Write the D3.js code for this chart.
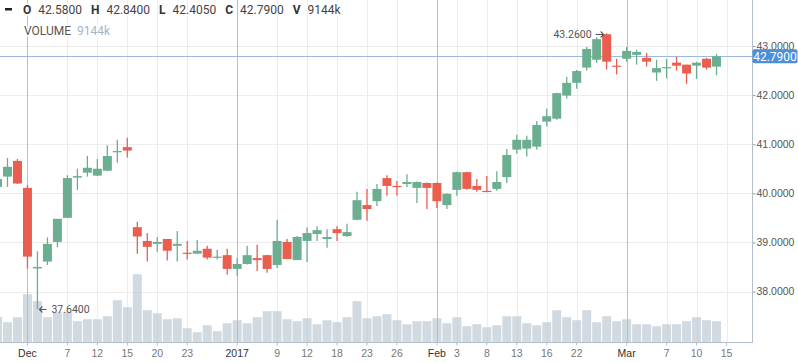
<!DOCTYPE html>
<html>
<head>
<meta charset="utf-8">
<script src="https://cdn.jsdelivr.net/npm/d3@7"></script>
<style>
  body { margin: 0; background: #fff; }
  svg { display: block; font-family: Roboto, "Liberation Sans", Arial, sans-serif; }
</style>
</head>
<body>
<script>
// trading days shown (last one, Mar 15, has no candle yet)
var days = ["2016-11-28","2016-11-29","2016-11-30","2016-12-01","2016-12-02","2016-12-05","2016-12-06","2016-12-07","2016-12-08","2016-12-09",
  "2016-12-12","2016-12-13","2016-12-14","2016-12-15","2016-12-16","2016-12-19","2016-12-20","2016-12-21","2016-12-22","2016-12-23",
  "2016-12-27","2016-12-28","2016-12-29","2016-12-30","2017-01-03","2017-01-04","2017-01-05","2017-01-06","2017-01-09","2017-01-10",
  "2017-01-11","2017-01-12","2017-01-13","2017-01-17","2017-01-18","2017-01-19","2017-01-20","2017-01-23","2017-01-24","2017-01-25",
  "2017-01-26","2017-01-27","2017-01-30","2017-01-31","2017-02-01","2017-02-02","2017-02-03","2017-02-06","2017-02-07","2017-02-08",
  "2017-02-09","2017-02-10","2017-02-13","2017-02-14","2017-02-15","2017-02-16","2017-02-17","2017-02-21","2017-02-22","2017-02-23",
  "2017-02-24","2017-02-27","2017-02-28","2017-03-01","2017-03-02","2017-03-03","2017-03-06","2017-03-07","2017-03-08","2017-03-09",
  "2017-03-10","2017-03-13","2017-03-14","2017-03-15"];

var open  = [40.13,40.34,40.66,40.11,38.47,38.61,39.01,39.50,40.32,40.42,40.36,40.46,40.84,40.94,39.31,39.03,38.97,39.07,38.93,38.79,
  38.77,38.87,38.69,38.74,38.46,38.56,38.68,38.74,38.54,39.01,38.64,39.03,39.17,39.07,39.27,39.13,39.46,39.76,39.84,40.31,
  40.15,40.19,40.11,40.21,40.21,39.76,40.07,40.43,40.15,40.05,40.09,40.33,40.89,40.91,40.95,41.46,41.52,41.99,42.25,42.56,
  42.72,43.24,42.60,42.74,42.82,42.76,42.46,42.55,42.66,42.62,42.60,42.74,42.58];
var high  = [40.35,40.72,40.70,40.17,38.82,39.10,39.48,40.37,40.50,40.76,40.70,40.98,41.09,41.13,39.42,39.19,39.11,39.07,39.23,39.03,
  39.05,38.93,38.85,38.87,38.68,38.93,38.95,38.75,39.46,39.07,39.13,39.31,39.33,39.27,39.33,39.38,40.03,40.09,40.19,40.37,
  40.25,40.39,40.24,40.22,40.22,40.00,40.44,40.44,40.29,40.35,40.45,40.90,41.19,41.17,41.47,41.72,42.05,42.37,42.51,42.98,
  43.18,43.26,42.74,42.98,42.92,42.86,42.72,42.74,42.78,42.62,42.68,42.76,42.84];
var low   = [40.05,40.13,40.19,38.47,37.64,38.54,38.90,39.50,40.07,40.34,40.35,40.45,40.62,40.73,38.77,38.61,38.81,38.63,38.61,38.65,
  38.77,38.65,38.65,38.34,38.32,38.55,38.42,38.38,38.48,38.66,38.64,38.60,39.03,38.89,39.03,39.11,39.45,39.44,39.74,39.95,
  39.95,40.13,39.80,39.68,39.70,39.68,39.95,40.07,40.03,40.02,40.05,40.21,40.81,40.75,40.89,41.36,41.50,41.93,42.13,42.50,
  42.66,42.52,42.42,42.68,42.62,42.58,42.29,42.34,42.50,42.23,42.33,42.52,42.405];
var close = [40.29,40.54,40.20,38.71,38.50,38.97,39.48,40.31,40.35,40.52,40.50,40.76,40.86,40.87,39.12,38.91,39.01,38.83,38.97,38.77,
  38.83,38.69,38.71,38.46,38.56,38.74,38.64,38.46,39.03,38.66,39.11,39.19,39.25,39.11,39.19,39.21,39.86,39.68,40.09,40.15,
  40.13,40.23,40.23,40.11,39.84,39.99,40.43,40.09,40.07,40.03,40.23,40.78,41.09,41.09,41.39,41.57,42.04,42.25,42.49,42.94,
  43.14,42.68,42.58,42.90,42.88,42.68,42.55,42.57,42.60,42.44,42.66,42.56,42.79];
// volume in thousands
var volume = [10980,8710,10850,20720,17720,10850,13000,13000,9140,10000,10000,11280,18150,15140,29300,13860,12570,10000,10420,6130,
  4420,7420,4850,8280,9570,8280,10850,13430,13430,10000,9140,10420,7850,9570,8710,10850,17720,10420,11280,12140,
  9570,7850,9140,9140,10420,8280,10850,6990,7850,6560,7420,11280,11280,8280,7420,8710,13860,10850,9570,13860,
  8710,11280,9140,10000,7850,7850,6990,7850,7850,9140,10850,9570,9144];

var tickDays = ["2016-12-01","2016-12-07","2016-12-12","2016-12-15","2016-12-20","2016-12-23","2017-01-03","2017-01-09","2017-01-12",
  "2017-01-18","2017-01-23","2017-01-26","2017-02-01","2017-02-03","2017-02-08","2017-02-13","2017-02-16","2017-02-22",
  "2017-03-01","2017-03-07","2017-03-10","2017-03-15"];
var tickLabels = ["Dec","7","12","15","20","23","2017","9","12","18","23","26","Feb","3","8","13","16","22","Mar","7","10","15"];
var majorTicks = ["Dec","2017","Feb","Mar"];
var priceTicks = [38, 39, 40, 41, 42, 43];

var W = 798, H = 363, plotR = 752, plotB = 342.5;
var up = "#6bae90", down = "#ea5e50";

var svg = d3.select("body").append("svg").attr("width", W).attr("height", H);
svg.append("defs").append("clipPath").attr("id", "plot")
  .append("rect").attr("x", 0).attr("y", 0).attr("width", plotR).attr("height", plotB);

var x = d3.scaleBand().domain(days).range([-8, -8 + days.length * 10]).padding(0.1);
var xc = function(d) { return x(d) + x.bandwidth() / 2; };
var y = d3.scaleLinear().domain([38, 43]).range([291.5, 46]);
var yv = d3.scaleLinear().domain([0, 30000]).range([plotB, plotB - 30000 / 429]);

var candles = days.slice(0, open.length).map(function(d, i) {
  return { day: d, o: open[i], h: high[i], l: low[i], c: close[i], v: volume[i] };
});

var plot = svg.append("g").attr("clip-path", "url(#plot)");

// light grid
plot.selectAll(".hg").data(priceTicks).enter().append("line")
  .attr("x1", 0).attr("x2", plotR).attr("y1", function(d) { return Math.round(y(d)) + 0.5; })
  .attr("y2", function(d) { return Math.round(y(d)) + 0.5; })
  .attr("stroke", "#ececec");
plot.selectAll(".vg").data(tickDays.filter(function(d, i) { return majorTicks.indexOf(tickLabels[i]) < 0; }))
  .enter().append("line")
  .attr("x1", function(d) { return Math.round(xc(d)) + 0.5; }).attr("x2", function(d) { return Math.round(xc(d)) + 0.5; })
  .attr("y1", 0).attr("y2", plotB).attr("stroke", "#ececec");

// volume
plot.selectAll(".vol").data(candles).enter().append("rect")
  .attr("x", function(d) { return x(d.day); }).attr("width", x.bandwidth())
  .attr("y", function(d) { return yv(d.v); }).attr("height", function(d) { return plotB - yv(d.v); })
  .attr("fill", "#b9c5d1").attr("fill-opacity", 0.65);

// month lines
plot.selectAll(".mg").data(tickDays.filter(function(d, i) { return majorTicks.indexOf(tickLabels[i]) >= 0; }))
  .enter().append("line")
  .attr("x1", function(d) { return Math.round(xc(d)) + 0.5; }).attr("x2", function(d) { return Math.round(xc(d)) + 0.5; })
  .attr("y1", 0).attr("y2", plotB).attr("stroke", "#bdbdbd");

// last close line
var last = candles[candles.length - 1];
plot.append("line").attr("x1", 0).attr("x2", plotR)
  .attr("y1", Math.round(y(last.c)) + 0.5).attr("y2", Math.round(y(last.c)) + 0.5)
  .attr("stroke", "#9db9e0");

// candles
var cg = plot.selectAll(".candle").data(candles).enter().append("g");
cg.append("line")
  .attr("x1", function(d) { return xc(d.day); }).attr("x2", function(d) { return xc(d.day); })
  .attr("y1", function(d) { return y(d.h); }).attr("y2", function(d) { return y(d.l); })
  .attr("stroke", function(d) { return d.c >= d.o ? up : down; }).attr("stroke-width", 1.3);
cg.append("rect")
  .attr("x", function(d) { return x(d.day); }).attr("width", x.bandwidth())
  .attr("y", function(d) { return y(Math.max(d.o, d.c)); })
  .attr("height", function(d) { return Math.max(1.2, Math.abs(y(d.o) - y(d.c))); })
  .attr("fill", function(d) { return d.c >= d.o ? up : down; });

// high / low markers (arrow + value)
var lowest = candles.reduce(function(a, b) { return b.l < a.l ? b : a; });
var highest = candles.reduce(function(a, b) { return b.h > a.h ? b : a; });
var ann = svg.append("g").attr("font-size", 10.5).attr("fill", "#555");
var lx = xc(lowest.day), ly = Math.round(y(lowest.l)) + 0.5;
ann.append("path").attr("d", "M" + (lx + 9) + "," + ly + "H" + (lx + 2) + "M" + (lx + 5) + "," + (ly - 3) + "L" + (lx + 2) + "," + ly + "L" + (lx + 5) + "," + (ly + 3))
  .attr("fill", "none").attr("stroke", "#555").attr("stroke-width", 1.1);
ann.append("text").attr("x", lx + 14).attr("y", ly).attr("dy", "0.35em").text(lowest.l.toFixed(4));
var hx = xc(highest.day), hy = Math.round(y(highest.h)) + 1.5;
ann.append("path").attr("d", "M" + (hx - 11) + "," + hy + "H" + (hx - 3) + "M" + (hx - 6) + "," + (hy - 3) + "L" + (hx - 3) + "," + hy + "L" + (hx - 6) + "," + (hy + 3))
  .attr("fill", "none").attr("stroke", "#555").attr("stroke-width", 1.1);
ann.append("text").attr("x", hx - 15).attr("y", hy).attr("dy", "0.35em")
  .attr("text-anchor", "end").text(highest.h.toFixed(4));

// right axis
var axisColor = "#b3bfcc";
var ra = svg.append("g").attr("transform", "translate(" + (plotR + 0.5) + ",0)")
  .call(d3.axisRight(y).tickValues(priceTicks).tickSize(3).tickPadding(1).tickFormat(d3.format(".4f")));
ra.select(".domain").remove();
ra.selectAll("line").attr("stroke", "#999");
ra.selectAll("text").attr("fill", "#555").attr("font-size", 10.5).attr("font-family", null);
svg.append("line").attr("x1", plotR + 0.5).attr("x2", plotR + 0.5).attr("y1", 0).attr("y2", plotB)
  .attr("stroke", axisColor);

// last price tag
var ty = y(last.c);
svg.append("rect").attr("x", plotR + 0.5).attr("y", ty - 7).attr("width", 45).attr("height", 14).attr("rx", 2)
  .attr("fill", "#4a8fd8");
svg.append("text").attr("x", plotR + 23).attr("y", ty).attr("dy", "0.35em").attr("text-anchor", "middle")
  .attr("fill", "#fff").attr("font-size", 12).text(last.c.toFixed(4));

// bottom axis
var ba = svg.append("g").attr("transform", "translate(0," + plotB + ")")
  .call(d3.axisBottom(x).tickValues(tickDays).tickSize(3).tickPadding(4)
    .tickFormat(function(d, i) { return tickLabels[i]; }));
ba.select(".domain").remove();
ba.selectAll("line").attr("stroke", axisColor);
ba.selectAll("text").attr("font-size", 10.5).attr("font-family", null)
  .attr("fill", function(d, i) { return majorTicks.indexOf(tickLabels[i]) >= 0 ? "#333" : "#777"; });
svg.append("line").attr("x1", 0).attr("x2", plotR + 0.5).attr("y1", plotB).attr("y2", plotB).attr("stroke", axisColor);

// header legend
var hdr = svg.append("g").attr("font-size", 12).attr("fill", "#333")
  .attr("stroke", "#fff").attr("stroke-width", 3).attr("paint-order", "stroke");
hdr.append("rect").attr("x", 5).attr("y", 8).attr("width", 7).attr("height", 2.5).attr("fill", "#222").attr("stroke", "none");
var items = [["O", last.o.toFixed(4)], ["H", last.h.toFixed(4)], ["L", last.l.toFixed(4)], ["C", last.c.toFixed(4)],
  ["V", last.v + "k"]];
var cx = 23;
items.forEach(function(it) {
  var t1 = hdr.append("text").attr("x", cx).attr("y", 13.5).attr("font-weight", "bold").text(it[0]);
  cx += t1.node().getComputedTextLength() + 7;
  var t2 = hdr.append("text").attr("x", cx).attr("y", 13.5).attr("fill", "#444").text(it[1]);
  cx += t2.node().getComputedTextLength() + 9;
});
hdr.append("text").attr("x", 24).attr("y", 35).attr("fill", "#555").text("VOLUME");
hdr.append("text").attr("x", 77).attr("y", 35).attr("fill", "#a4b4c8").text(last.v + "k");
</script>
</body>
</html>
